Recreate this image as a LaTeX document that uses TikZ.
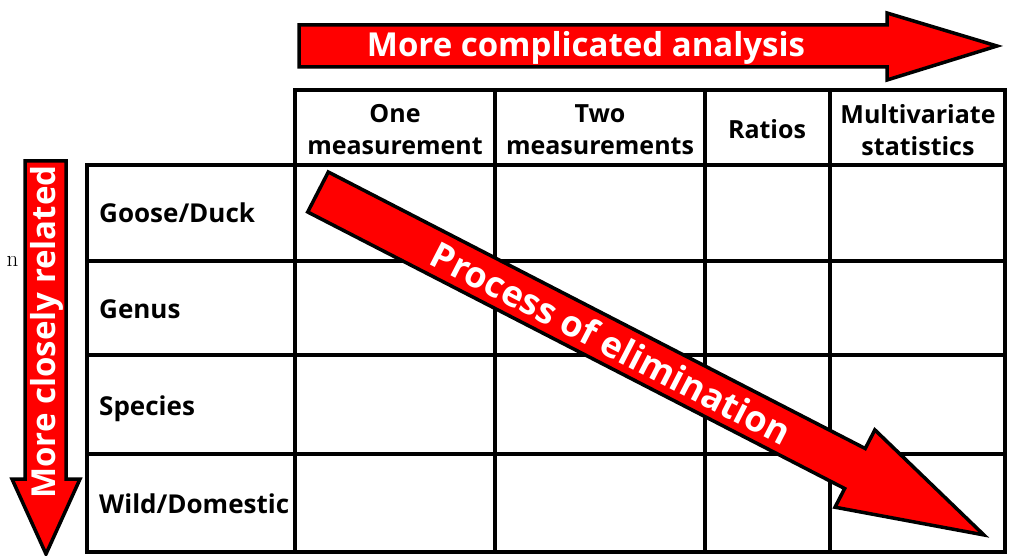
\documentclass[tikz,border=0pt]{standalone}
\usepackage{fontspec}
\usepackage{tikz}
\usepackage{xcolor}
\newfontfamily\diagfont{Open Sans}
\definecolor{arrow_red}{HTML}{FF0000}
\usetikzlibrary{positioning,calc}
\tikzset{GRID/.style={line width=4pt, line cap=rect}}
\tikzset{BIGARROW/.style={draw, line width=3.5pt, fill=arrow_red}}
\tikzset{ARROWTEXT/.style={text=white, inner sep=0pt, font=\diagfont\bfseries\fontsize{#1}{#1}\selectfont}}
\tikzset{HEAD/.style={align=center, inner sep=0pt, font=\diagfont\bfseries\fontsize{25}{32}\selectfont}}
\tikzset{ROWLABEL/.style={anchor=base west, inner sep=0pt, font=\diagfont\bfseries\fontsize{26}{26}\selectfont}}

\begin{document}
\begin{tikzpicture}[x=1pt,y=-1pt]
\useasboundingbox (0,0) rectangle (1016,556);

% table
\draw[GRID] (295,90) rectangle (1005,552);
\draw[GRID] (87,165) rectangle (1005,552);
\foreach \x in {495,705,830} \draw[GRID] (\x,90) -- (\x,552);
\foreach \y in {261,355,454} \draw[GRID] (87,\y) -- (1005,\y);

\node[HEAD] (n_one) at (395,130) {One\\measurement};
\node[HEAD] (n_two) at (600,130) {Two\\measurements};
\node[HEAD] (n_ratios) at (767,129) {Ratios};
\node[HEAD] (n_multi) at (918,130) {Multivariate\\statistics};

\node[ROWLABEL] (n_goose) at (99,222) {Goose/Duck};
\node[ROWLABEL] (n_genus) at (99,318) {Genus};
\node[ROWLABEL] (n_species) at (99,415) {Species};
\node[ROWLABEL] (n_wild) at (99,513) {Wild/Domestic};

% top arrow
\draw[BIGARROW] (299,25) -- (887,25) -- (887,13) -- (997,46) -- (887,80) -- (887,67) -- (299,67) -- cycle;
\node[ARROWTEXT=33, anchor=base] (n_analysis) at (586,57) {More complicated analysis};

% left arrow
\draw[BIGARROW] (25,161) -- (66,161) -- (66,479) -- (80,479) -- (46,554) -- (12,479) -- (25,479) -- cycle;
\node[ARROWTEXT=33, rotate=90, anchor=base] (n_related) at (55,332) {More closely related};

% diagonal arrow
\begin{scope}[shift={(318,192)}, rotate=-27.25]
\draw[BIGARROW] (0,-22.5) -- (604,-22.5) -- (604,-43.5) -- (749,0) -- (604,43.5) -- (604,22.5) -- (0,22.5) -- cycle;
\coordinate (c_elim) at (330,0);
\end{scope}
\node[ARROWTEXT=36, rotate=-27.25] (n_elim) at (c_elim) {Process of elimination};

\node[inner sep=0pt, anchor=base, font=\fontsize{23}{23}\selectfont] (n_stray) at (12.5,266) {n};

\end{tikzpicture}
\end{document}
